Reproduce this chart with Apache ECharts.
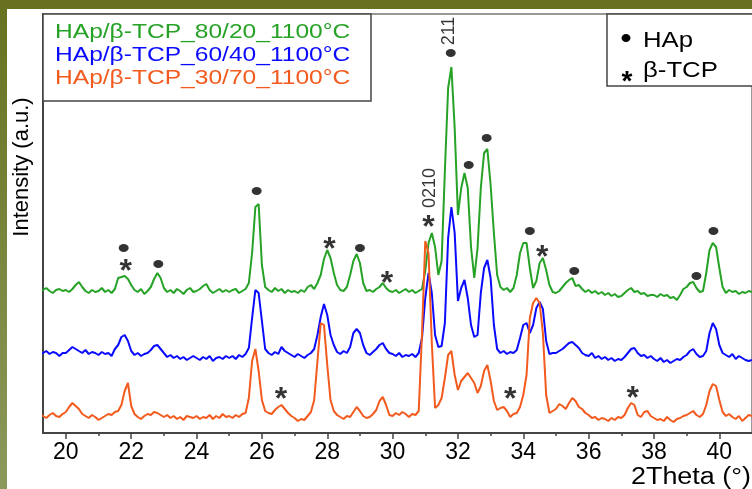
<!DOCTYPE html>
<html>
<head>
<meta charset="utf-8">
<script src="https://cdn.jsdelivr.net/npm/echarts/dist/echarts.min.js"></script>
<style>
  html, body { margin: 0; padding: 0; background: #fff; }
  #chart { width: 752px; height: 489px; }
</style>
</head>
<body>
<div id="chart"></div>
<script>
// XRD scans, 2θ from 19.0° in 0.1° steps, intensity in a.u. (traces already offset)
const twoThetaStart = 19.0;
const twoThetaStep = 0.1;

const hap80 = [
  142,144,141,143,145,142,140,143,144,142,
  143,141,144,148,151,146,142,140,143,141,
  142,145,141,143,140,144,155,156,157,154,
  148,143,141,144,139,142,146,154,160,155,
  145,141,143,140,144,142,139,143,145,141,
  142,144,147,149,143,140,142,144,141,143,
  141,143,144,140,142,144,150,180,226,229,
  168,146,143,141,145,142,144,140,143,141,
  142,140,143,141,146,148,144,150,158,174,
  183,175,160,148,143,142,146,158,172,179,
  170,150,142,143,141,144,146,150,145,142,
  141,143,140,142,144,141,143,140,142,144,
  162,190,200,186,158,172,262,345,366,305,
  218,245,260,245,186,155,185,245,280,284,
  248,200,158,146,143,145,141,145,158,180,
  190,190,165,145,152,170,175,163,148,141,
  140,142,146,150,153,155,147,148,144,141,
  143,140,142,139,141,138,140,137,139,136,
  137,140,143,145,141,142,139,140,137,138,
  138,136,139,137,138,135,136,133,138,144,
  146,150,151,145,141,142,160,183,190,186,
  165,146,140,143,141,142,139,141,140,142,
  141
];

const hap60 = [
  79,81,78,80,82,79,81,80,77,80,
  80,83,86,84,82,80,83,79,81,80,
  78,81,79,80,77,84,88,96,98,92,
  82,78,80,77,79,80,83,87,88,84,
  80,76,78,75,77,74,76,73,75,77,
  75,73,76,74,77,72,75,76,74,77,
  75,77,74,78,76,79,85,115,143,140,
  112,84,80,78,81,79,86,82,80,78,
  76,79,77,75,78,80,84,98,116,129,
  118,98,88,81,79,82,80,86,100,104,
  100,88,80,78,81,84,88,90,84,80,
  79,77,80,76,78,77,79,76,80,95,
  135,160,140,98,86,87,110,195,226,200,
  132,145,153,135,108,96,98,140,165,173,
  155,108,84,80,82,79,81,80,83,95,
  108,110,100,108,125,131,124,92,79,80,
  80,82,84,87,90,91,88,85,80,78,
  77,80,75,77,74,76,73,75,72,74,
  73,76,80,84,85,80,77,78,75,77,
  74,72,75,71,73,70,72,74,73,76,
  78,82,84,79,76,77,82,100,110,104,
  88,80,78,76,79,74,77,75,73,72,
  73
];

const hap30 = [
  18,16,19,17,15,18,20,17,16,19,
  21,26,30,27,24,19,17,15,18,16,
  13,15,17,19,18,21,22,28,42,50,
  27,19,16,14,17,19,18,21,20,18,
  16,18,15,17,14,16,13,17,16,15,
  17,14,16,15,18,14,17,15,19,16,
  17,15,18,16,19,20,35,72,84,62,
  33,22,20,19,23,26,28,24,20,17,
  15,12,14,13,17,21,33,72,110,108,
  68,33,22,18,16,14,17,16,21,26,
  22,17,15,16,19,23,32,36,28,18,
  17,20,18,21,19,16,19,18,22,100,
  192,180,90,25,28,35,55,78,82,58,
  43,52,56,60,55,50,40,47,62,68,
  52,32,23,25,26,22,16,19,20,26,
  38,58,115,130,135,130,100,38,20,22,
  24,29,27,24,30,35,32,26,24,20,
  18,15,16,13,15,14,12,15,13,16,
  15,18,25,30,28,18,16,21,22,17,
  15,13,14,12,16,13,11,14,15,17,
  18,20,22,18,16,19,28,42,49,47,
  33,21,17,19,16,14,17,12,15,18,
  17
];

// phase markers: [2θ, height]
const hapMarks = [
  [21.77, 185], [22.83, 169], [25.84, 242], [29.0, 185], [31.78, 380],
  [32.33, 268], [32.88, 295], [34.2, 202], [35.56, 162], [39.3, 157], [39.82, 202]
];
const tcpMarks = [
  [21.83, 169], [28.07, 191], [29.83, 157], [31.1, 213], [34.58, 183],
  [26.58, 41], [33.6, 41], [37.35, 42]
];
const millerLabels = ['211', '0210'];
const millerPos = [[31.73, 402], [31.15, 245]];

const majorTicks = [20, 22, 24, 26, 28, 30, 32, 34, 36, 38, 40];
const minorTicks = [21, 23, 25, 27, 29, 31, 33, 35, 37, 39];

const seriesNames = ['HAp/β-TCP_80/20_1100°C', 'HAp/β-TCP_60/40_1100°C', 'HAp/β-TCP_30/70_1100°C'];
const seriesColors = ['#26a226', '#0a0aff', '#f25a1e'];

const FONT = "'Liberation Sans', Arial, sans-serif";

function toPairs(values) {
  return values.map((v, i) => [+(twoThetaStart + i * twoThetaStep).toFixed(2), v]);
}

const chart = echarts.init(document.getElementById('chart'));

const lineSeries = [hap80, hap60, hap30].map((vals, i) => ({
  type: 'line',
  name: seriesNames[i],
  data: toPairs(vals),
  showSymbol: false,
  lineStyle: { color: seriesColors[i], width: 2 },
  itemStyle: { color: seriesColors[i] },
  z: 2 + i
}));

const option = {
  animation: false,
  backgroundColor: '#fff',
  grid: { left: 43, top: 14, right: -5, bottom: 56, show: true, borderColor: '#777', borderWidth: 1.5 },
  xAxis: [
    {
      type: 'value', min: 19.3, max: 41,
      axisLine: { lineStyle: { color: '#444', width: 2 } },
      axisTick: { customValues: majorTicks, length: 6, lineStyle: { color: '#444', width: 1.5 } },
      axisLabel: { customValues: majorTicks, fontSize: 23, color: '#000', margin: 8, fontFamily: FONT },
      splitLine: { show: false }
    },
    {
      type: 'value', min: 19.3, max: 41, position: 'bottom', offset: 0,
      axisLine: { show: false },
      axisTick: { customValues: minorTicks, length: 3, lineStyle: { color: '#444', width: 1.5 } },
      axisLabel: { show: false },
      splitLine: { show: false }
    }
  ],
  yAxis: {
    type: 'value', min: 0, max: 419,
    axisLine: { show: true, lineStyle: { color: '#444', width: 2 } },
    axisTick: { show: false },
    axisLabel: { show: false },
    splitLine: { show: false }
  },
  series: lineSeries.concat([
    {
      type: 'scatter', name: 'HAp', data: hapMarks,
      symbol: 'circle', symbolSize: [10, 8],
      itemStyle: { color: '#000' }, z: 10
    },
    {
      type: 'scatter', name: 'β-TCP', data: tcpMarks,
      symbol: 'circle', symbolSize: 0, z: 10,
      label: { show: true, position: 'inside', formatter: '*', fontSize: 32, fontWeight: 'bold', color: '#000', fontFamily: FONT, offset: [0, 8] }
    },
    {
      type: 'scatter', name: 'hkl',
      data: millerPos.map((p, i) => ({ value: p, name: millerLabels[i] })),
      symbol: 'circle', symbolSize: 0, z: 10,
      label: { show: true, position: 'inside', formatter: '{b}', rotate: 90, fontSize: 18, color: '#000', fontFamily: FONT }
    }
  ]),
  graphic: [
    // dark frame
    { type: 'rect', shape: { x: 0, y: 0, width: 752, height: 9 }, style: { fill: '#67711f' }, silent: true },
    {
      type: 'rect', shape: { x: 0, y: 0, width: 7, height: 489 }, silent: true,
      style: { fill: { type: 'linear', x: 0, y: 0, x2: 0, y2: 1, colorStops: [
        { offset: 0, color: '#67711f' }, { offset: 1, color: '#8a9a5c' } ] } }
    },
    // sample legend
    { type: 'rect', shape: { x: 43, y: 14, width: 328, height: 87 }, style: { fill: '#fff', stroke: '#444', lineWidth: 1.5 }, z: 20 },
    { type: 'text', x: 55, y: 32, scaleX: 1.17, z: 21,
      style: { text: seriesNames[0], fill: seriesColors[0], font: '21px ' + FONT, textVerticalAlign: 'middle' } },
    { type: 'text', x: 55, y: 55, scaleX: 1.17, z: 21,
      style: { text: seriesNames[1], fill: seriesColors[1], font: '21px ' + FONT, textVerticalAlign: 'middle' } },
    { type: 'text', x: 55, y: 78, scaleX: 1.17, z: 21,
      style: { text: seriesNames[2], fill: seriesColors[2], font: '21px ' + FONT, textVerticalAlign: 'middle' } },
    // phase legend
    { type: 'rect', shape: { x: 607, y: 14, width: 160, height: 72 }, style: { fill: '#fff', stroke: '#444', lineWidth: 1.5 }, z: 20 },
    { type: 'ellipse', shape: { cx: 626, cy: 38, rx: 4.5, ry: 4 }, style: { fill: '#000' }, z: 21 },
    { type: 'text', x: 643, y: 41, scaleX: 1.17, z: 21,
      style: { text: 'HAp', fill: '#000', font: '22px ' + FONT, textVerticalAlign: 'middle' } },
    { type: 'text', x: 627, y: 82, z: 21,
      style: { text: '*', fill: '#000', font: 'bold 28px ' + FONT, textAlign: 'center', textVerticalAlign: 'middle' } },
    { type: 'text', x: 643, y: 71, scaleX: 1.17, z: 21,
      style: { text: 'β-TCP', fill: '#000', font: '22px ' + FONT, textVerticalAlign: 'middle' } },
    // axis titles
    { type: 'text', x: 631, y: 478, scaleX: 1.17, z: 21,
      style: { text: '2Theta (°)', fill: '#000', font: '23px ' + FONT, textVerticalAlign: 'middle' } },
    { type: 'text', x: 22, y: 167, rotation: Math.PI / 2, z: 21,
      style: { text: 'Intensity (a.u.)', fill: '#000', font: '22px ' + FONT, textAlign: 'center', textVerticalAlign: 'middle' } }
  ]
};

chart.setOption(option);
</script>
</body>
</html>
